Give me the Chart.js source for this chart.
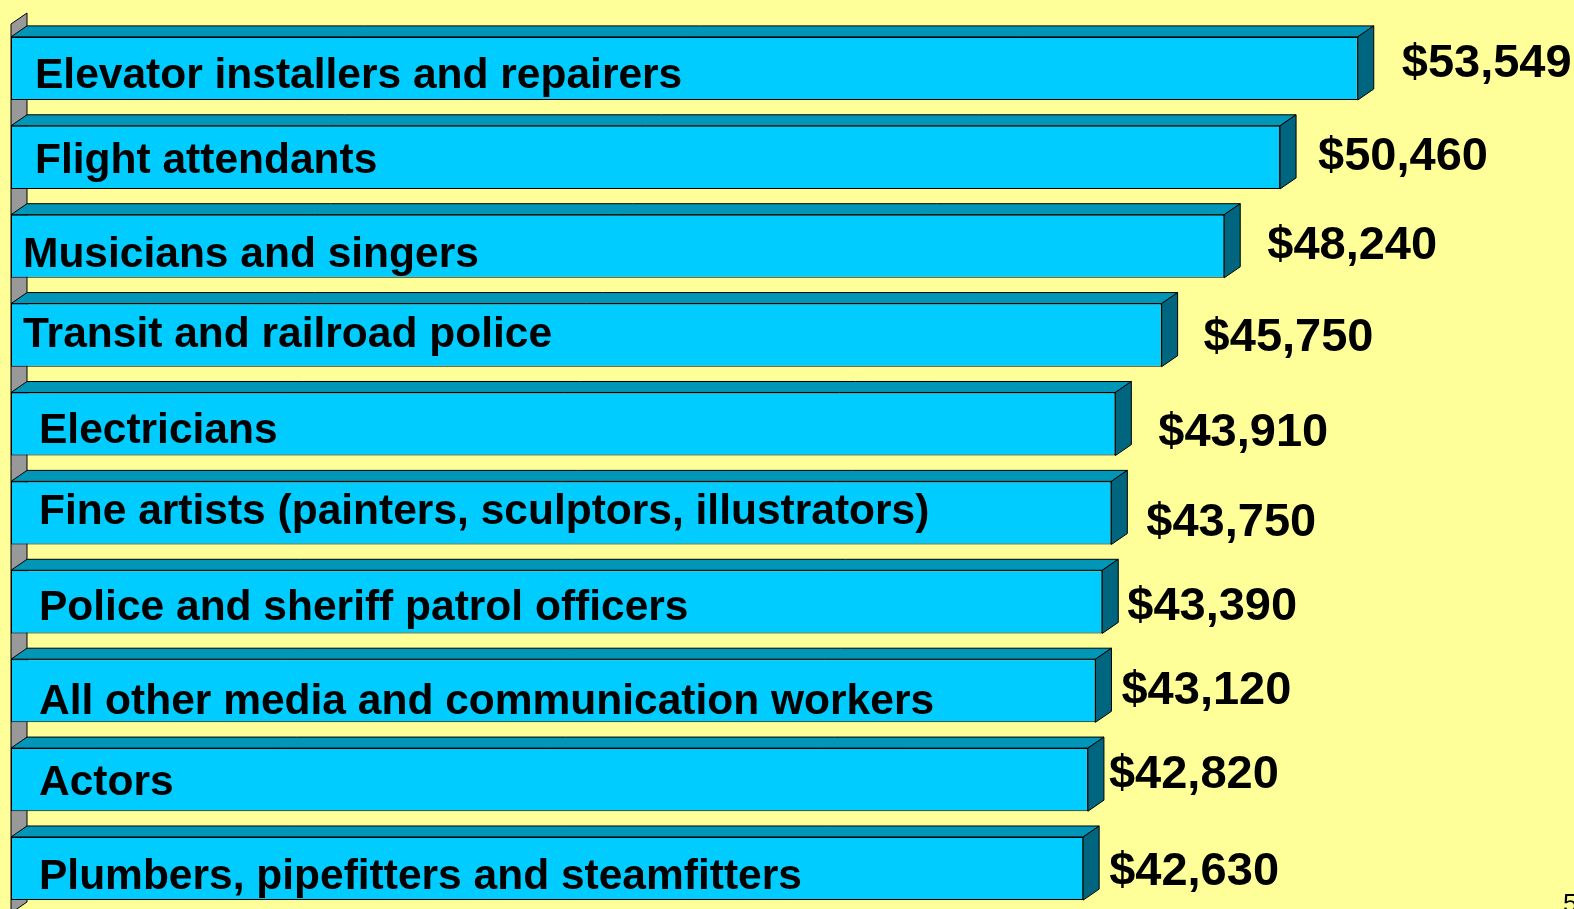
<!DOCTYPE html>
<html>
<head>
<meta charset="utf-8">
<script src="https://cdn.jsdelivr.net/npm/chart.js@4/dist/chart.umd.min.js"></script>
<style>
  html, body { margin: 0; padding: 0; background: #ffff99; overflow: hidden; }
  canvas { display: block; }
</style>
</head>
<body>
<!-- the last bar runs a few pixels past the bottom of the window -->
<canvas id="grafico" width="1574" height="913"></canvas>
<script>
const occupations = [
  "Elevator installers and repairers",
  "Flight attendants",
  "Musicians and singers",
  "Transit and railroad police",
  "Electricians",
  "Fine artists (painters, sculptors, illustrators)",
  "Police and sheriff patrol officers",
  "All other media and communication workers",
  "Actors",
  "Plumbers, pipefitters and steamfitters"
];
const earnings = [53549, 50460, 48240, 45750, 43910, 43750, 43390, 43120, 42820, 42630];
const valueLabels = earnings.map(v => "$" + v.toLocaleString("en-US"));

// the text boxes were placed by hand, so each one gets its own small nudge [dx, dy]
const nameNudge = [[-4, 5], [-4, 1], [-16, 6], [-16, -3], [0, 4], [0, -4], [0, 3], [0, 8], [0, 0], [0, 5]];
const valueNudge = [[3, -8], [-3, -4], [2, -4], [1, -1], [2, 5], [-6, 6], [-16, 1], [-15, -4], [-20, -9], [-15, -1]];

const DX = 16, DY = 11;   // depth of the 3d extrusion
const FONT = '"Liberation Sans", Arial, sans-serif';

function poly(ctx, pts) {
  ctx.beginPath();
  ctx.moveTo(pts[0][0], pts[0][1]);
  for (let i = 1; i < pts.length; i++) ctx.lineTo(pts[i][0], pts[i][1]);
  ctx.closePath();
  ctx.fill();
  ctx.stroke();
}

const faces3d = {
  id: "faces3d",
  beforeDatasetsDraw(chart) {
    const { ctx, chartArea: a } = chart;
    ctx.save();
    ctx.strokeStyle = "#000";
    ctx.lineWidth = 1;
    // back wall on the left
    ctx.fillStyle = "#999999";
    poly(ctx, [[a.left, a.top], [a.left + DX, a.top - DY], [a.left + DX, a.bottom - DY], [a.left, a.bottom]]);
    chart.getDatasetMeta(0).data.forEach(bar => {
      const top = bar.y - bar.height / 2, bottom = bar.y + bar.height / 2;
      const left = bar.base, right = bar.x;
      ctx.fillStyle = "#0096b8";
      poly(ctx, [[left, top], [left + DX, top - DY], [right + DX, top - DY], [right, top]]);
      ctx.fillStyle = "#00657f";
      poly(ctx, [[right, top], [right + DX, top - DY], [right + DX, bottom - DY], [right, bottom]]);
    });
    ctx.restore();
  },
  afterDatasetsDraw(chart) {
    const { ctx } = chart;
    ctx.save();
    ctx.fillStyle = "#000";
    ctx.textBaseline = "alphabetic";
    ctx.textAlign = "left";
    chart.getDatasetMeta(0).data.forEach((bar, i) => {
      ctx.font = "bold 42.5px " + FONT;
      ctx.fillText(occupations[i], bar.base + 28 + nameNudge[i][0], bar.y + 15 + nameNudge[i][1]);
      ctx.font = "bold 47px " + FONT;
      ctx.fillText(valueLabels[i], bar.x + DX + 25 + valueNudge[i][0], bar.y + 17 + valueNudge[i][1]);
    });
    // page number, mostly off the bottom edge
    ctx.font = "26px " + FONT;
    ctx.fillText("5", 1563, 912);
    ctx.restore();
  }
};

new Chart(document.getElementById("grafico").getContext("2d"), {
  type: "bar",
  data: {
    labels: occupations,
    datasets: [{
      data: earnings,
      backgroundColor: "#00ccff",
      borderColor: "#000",
      borderWidth: 1,
      borderSkipped: false,
      categoryPercentage: 1,
      barPercentage: 0.71
    }]
  },
  options: {
    indexAxis: "y",
    responsive: false,
    animation: false,
    devicePixelRatio: 1,
    layout: { padding: { left: 11, right: 54, top: 24, bottom: 0 } },
    plugins: { legend: { display: false }, tooltip: { enabled: false } },
    scales: {
      x: { display: false, min: 0, max: 60000 },
      y: { display: false }
    }
  },
  plugins: [faces3d]
});
</script>
</body>
</html>
